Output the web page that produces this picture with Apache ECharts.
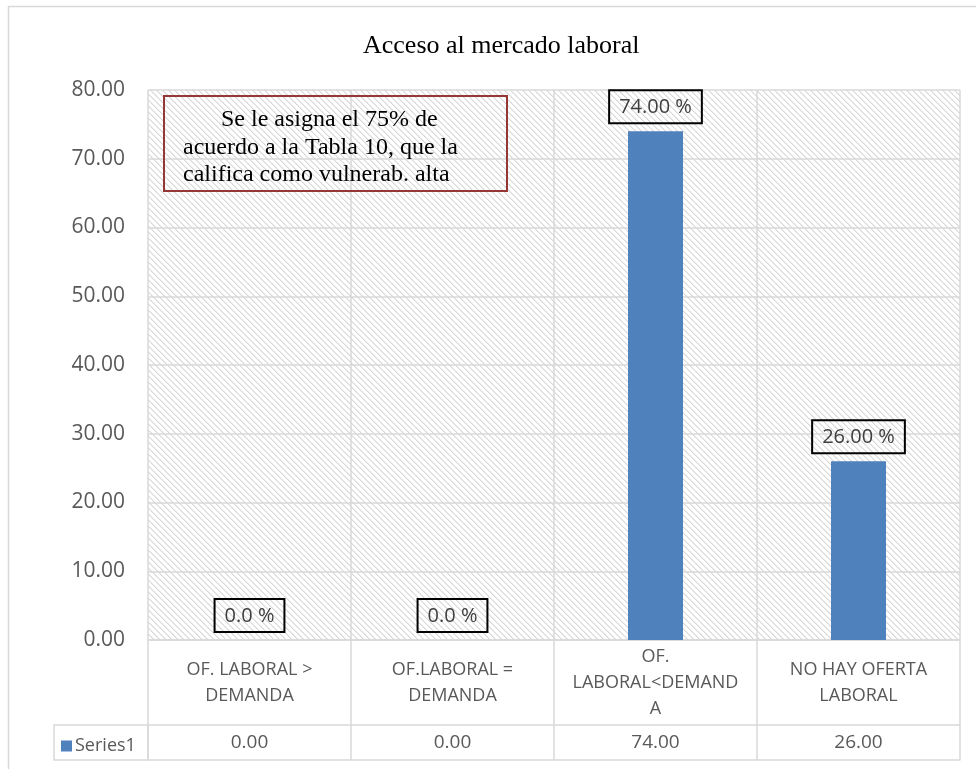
<!DOCTYPE html>
<html>
<head>
<meta charset="utf-8">
<script src="https://cdn.jsdelivr.net/npm/echarts@6/dist/echarts.min.js"></script>
<style>
html,body{margin:0;padding:0;background:#fff;}
#chart{width:976px;height:769px;}
</style>
</head>
<body>
<div id="chart"></div>
<script>
// ---- data ----
var chartTitle = 'Acceso al mercado laboral';
var categories = ['OF. LABORAL >\nDEMANDA', 'OF.LABORAL =\nDEMANDA', 'OF.\nLABORAL<DEMAND\nA', 'NO HAY OFERTA\nLABORAL'];
var seriesName = 'Series1';
var values = [0, 0, 74, 26];
var yTicks = { min: 0, max: 80, interval: 10 };
var noteLines = ['Se le asigna el 75% de', 'acuerdo a la Tabla 10, que la', 'califica como vulnerab. alta'];

// ---- hatch pattern ----
var tile = document.createElement('canvas');
tile.width = 6; tile.height = 6;
var tc = tile.getContext('2d');
tc.fillStyle = '#ffffff'; tc.fillRect(0, 0, 6, 6);
for (var i = 0; i < 6; i++) {
  tc.fillStyle = '#d8d8d8'; tc.fillRect(i, i, 1, 1);
  tc.fillStyle = '#ebebeb'; tc.fillRect((i + 1) % 6, i, 1, 1);
}

var lineCol = '#d9d9d9';
var txtCol = '#595959';
var sans = 'Open Sans';
var serif = 'Liberation Serif';

var chart = echarts.init(document.getElementById('chart'));
chart.setOption({
  animation: false,
  title: {
    text: chartTitle, left: 358, top: 28,
    textStyle: { fontFamily: serif, fontSize: 26, fontWeight: 'normal', color: '#000' }
  },
  legend: {
    data: [seriesName], left: 56, top: 732, itemWidth: 11, itemHeight: 11, icon: 'rect', itemGap: 5,
    textStyle: { fontFamily: sans, fontSize: 18, color: txtCol, padding: [0, 0, 0, -2] }
  },
  grid: [
    { left: 148, top: 90, width: 812, height: 550, show: true, borderWidth: 0,
      backgroundColor: { image: tile, repeat: 'repeat' } },
    { left: 148, top: 640, width: 812, height: 85 },
    { left: 148, top: 725, width: 812, height: 35 }
  ],
  xAxis: [
    { type: 'category', gridIndex: 0, data: categories,
      axisLine: { show: true, lineStyle: { color: lineCol, width: 1.5 } },
      axisTick: { show: false },
      splitLine: { show: true, lineStyle: { color: lineCol, width: 1.5 } },
      axisLabel: { fontFamily: sans, fontSize: 18, color: txtCol, lineHeight: 26,
        verticalAlign: 'middle', margin: 43, interval: 0 } },
    { type: 'category', gridIndex: 1, data: categories,
      axisLine: { show: true, lineStyle: { color: lineCol, width: 1.5 } },
      axisTick: { show: false }, axisLabel: { show: false },
      splitLine: { show: true, lineStyle: { color: lineCol, width: 1.5 } } },
    { type: 'category', gridIndex: 2, data: categories,
      axisLine: { show: true, lineStyle: { color: lineCol, width: 1.5 } },
      axisTick: { show: false },
      splitLine: { show: true, lineStyle: { color: lineCol, width: 1.5 } },
      axisLabel: { inside: true, margin: 17, verticalAlign: 'middle', interval: 0,
        fontFamily: sans, fontSize: 19, color: txtCol,
        formatter: function (v, idx) { return values[idx].toFixed(2); } } }
  ],
  yAxis: [
    { type: 'value', gridIndex: 0, min: yTicks.min, max: yTicks.max, interval: yTicks.interval,
      axisLine: { show: false }, axisTick: { show: false },
      splitLine: { show: true, lineStyle: { color: lineCol, width: 1.5 } },
      axisLabel: { fontFamily: sans, fontSize: 21, color: txtCol, margin: 23,
        formatter: function (v) { return v.toFixed(2); } } },
    { type: 'value', gridIndex: 1, min: 0, max: 1, show: false },
    { type: 'value', gridIndex: 2, min: 0, max: 1, show: false }
  ],
  series: [{
    name: seriesName, type: 'bar', xAxisIndex: 0, yAxisIndex: 0,
    data: values, barWidth: 55,
    itemStyle: { color: '#4F81BD' },
    label: {
      show: true, position: 'top', distance: 8,
      fontFamily: sans, fontSize: 20, color: '#404040',
      borderColor: '#000', borderWidth: 2, padding: [7, 10, 6, 10],
      formatter: function (p) { return (p.value === 0 ? p.value.toFixed(1) : p.value.toFixed(2)) + ' %'; }
    }
  }],
  graphic: [
    { type: 'rect', shape: { x: 8.5, y: 6.5, width: 1000, height: 800 },
      style: { fill: 'none', stroke: lineCol, lineWidth: 1.5 }, silent: true, z: -10 },
    { type: 'rect', shape: { x: 54, y: 725, width: 94, height: 35 },
      style: { fill: 'none', stroke: lineCol, lineWidth: 1.5 }, silent: true },
    { type: 'rect', shape: { x: 164, y: 96, width: 343, height: 95 },
      style: { fill: 'none', stroke: '#953735', lineWidth: 2 }, silent: true, z: 10 },
    { type: 'text', x: 221, y: 120, style: { text: noteLines[0], font: '24px "Liberation Serif"', fill: '#000', verticalAlign: 'middle' }, z: 10 },
    { type: 'text', x: 183, y: 148, style: { text: noteLines[1], font: '24px "Liberation Serif"', fill: '#000', verticalAlign: 'middle' }, z: 10 },
    { type: 'text', x: 183, y: 175, style: { text: noteLines[2], font: '24px "Liberation Serif"', fill: '#000', verticalAlign: 'middle' }, z: 10 }
  ]
});
</script>
</body>
</html>
